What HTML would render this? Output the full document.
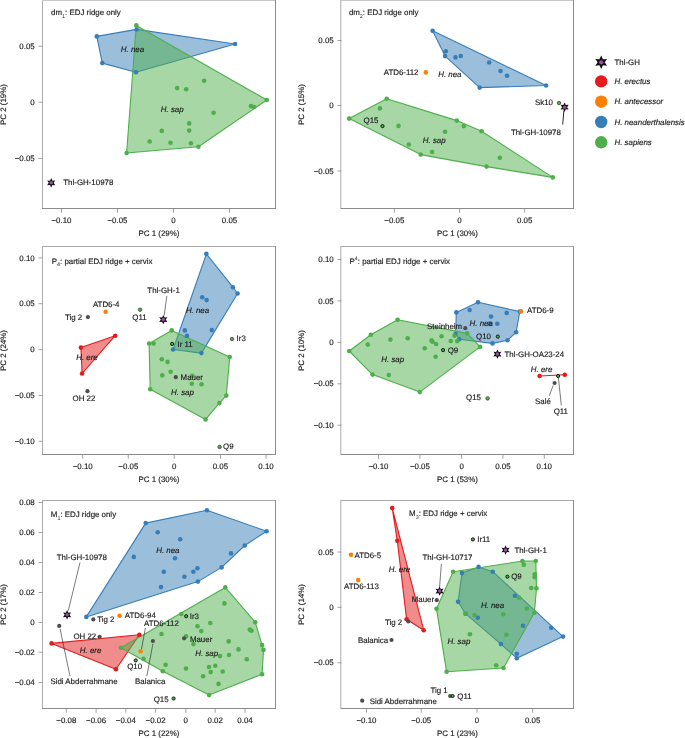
<!DOCTYPE html>
<html><head><meta charset="utf-8"><style>
html,body{margin:0;padding:0;background:#fff;}
svg{display:block;}
text{font-family:"Liberation Sans",sans-serif;fill:#1a1a1a;stroke:#1a1a1a;stroke-width:0.15px;text-rendering:geometricPrecision;}
</style></head><body>
<svg width="685" height="738" viewBox="0 0 685 738">
<rect width="685" height="738" fill="#fff"/>
<line x1="42.5" y1="0" x2="42.5" y2="209" stroke="#acacac" stroke-width="1"/>
<line x1="42" y1="0.5" x2="276" y2="0.5" stroke="#c8c8c8" stroke-width="1"/>
<line x1="275.5" y1="0" x2="275.5" y2="209" stroke="#8c8c8c" stroke-width="1"/>
<line x1="42" y1="208.5" x2="276" y2="208.5" stroke="#8a8a8a" stroke-width="1"/>
<line x1="61.5" y1="208.5" x2="61.5" y2="212.8" stroke="#8c8c8c" stroke-width="0.8"/>
<line x1="117.5" y1="208.5" x2="117.5" y2="212.8" stroke="#8c8c8c" stroke-width="0.8"/>
<line x1="173.5" y1="208.5" x2="173.5" y2="212.8" stroke="#8c8c8c" stroke-width="0.8"/>
<line x1="229.5" y1="208.5" x2="229.5" y2="212.8" stroke="#8c8c8c" stroke-width="0.8"/>
<line x1="38.5" y1="46.2" x2="42.5" y2="46.2" stroke="#8c8c8c" stroke-width="0.8"/>
<line x1="38.5" y1="102.2" x2="42.5" y2="102.2" stroke="#8c8c8c" stroke-width="0.8"/>
<line x1="38.5" y1="158.4" x2="42.5" y2="158.4" stroke="#8c8c8c" stroke-width="0.8"/>
<polygon points="96.8,36.4 136.6,29.4 235.1,44.0 135.9,72.2 102.3,63.1" fill="#377eb8" fill-opacity="0.5" stroke="#377eb8" stroke-width="1.1" stroke-linejoin="round"/>
<polygon points="136.3,25.4 266.8,100.0 198.4,146.8 126.6,153.0" fill="#4daf4a" fill-opacity="0.5" stroke="#4daf4a" stroke-width="1.1" stroke-linejoin="round"/>
<circle cx="96.8" cy="36.4" r="2.3" fill="#377eb8"/>
<circle cx="136.6" cy="29.4" r="2.3" fill="#377eb8"/>
<circle cx="235.1" cy="44.0" r="2.3" fill="#377eb8"/>
<circle cx="135.9" cy="72.2" r="2.3" fill="#377eb8"/>
<circle cx="102.3" cy="63.1" r="2.3" fill="#377eb8"/>
<circle cx="136.3" cy="25.4" r="2.3" fill="#4daf4a"/>
<circle cx="266.8" cy="100.0" r="2.3" fill="#4daf4a"/>
<circle cx="198.4" cy="146.8" r="2.3" fill="#4daf4a"/>
<circle cx="126.6" cy="153.0" r="2.3" fill="#4daf4a"/>
<circle cx="204.1" cy="80.8" r="2.3" fill="#4daf4a"/>
<circle cx="177.1" cy="88.1" r="2.3" fill="#4daf4a"/>
<circle cx="186.2" cy="89.2" r="2.3" fill="#4daf4a"/>
<circle cx="250.9" cy="106.1" r="2.3" fill="#4daf4a"/>
<circle cx="254.0" cy="107.0" r="2.3" fill="#4daf4a"/>
<circle cx="213.6" cy="112.8" r="2.3" fill="#4daf4a"/>
<circle cx="189.2" cy="123.4" r="2.3" fill="#4daf4a"/>
<circle cx="189.2" cy="130.6" r="2.3" fill="#4daf4a"/>
<circle cx="161.8" cy="130.9" r="2.3" fill="#4daf4a"/>
<circle cx="149.7" cy="141.5" r="2.3" fill="#4daf4a"/>
<circle cx="170.5" cy="142.7" r="2.3" fill="#4daf4a"/>
<circle cx="190.9" cy="143.2" r="2.3" fill="#4daf4a"/>
<polygon points="51.20,178.10 49.98,180.68 47.13,180.45 48.76,182.80 47.13,185.15 49.98,184.92 51.20,187.50 52.42,184.92 55.27,185.15 53.64,182.80 55.27,180.45 52.42,180.68" fill="#111"/>
<circle cx="51.2" cy="182.8" r="1.75" fill="#984ea3"/>
<line x1="340.8" y1="0" x2="340.8" y2="209" stroke="#acacac" stroke-width="1"/>
<line x1="341" y1="0.5" x2="574" y2="0.5" stroke="#c8c8c8" stroke-width="1"/>
<line x1="573.5" y1="0" x2="573.5" y2="209" stroke="#8c8c8c" stroke-width="1"/>
<line x1="341" y1="208.5" x2="574" y2="208.5" stroke="#8a8a8a" stroke-width="1"/>
<line x1="394.3" y1="208.5" x2="394.3" y2="212.8" stroke="#8c8c8c" stroke-width="0.8"/>
<line x1="459.5" y1="208.5" x2="459.5" y2="212.8" stroke="#8c8c8c" stroke-width="0.8"/>
<line x1="524.7" y1="208.5" x2="524.7" y2="212.8" stroke="#8c8c8c" stroke-width="0.8"/>
<line x1="337.5" y1="40.5" x2="341.5" y2="40.5" stroke="#8c8c8c" stroke-width="0.8"/>
<line x1="337.5" y1="105.5" x2="341.5" y2="105.5" stroke="#8c8c8c" stroke-width="0.8"/>
<line x1="337.5" y1="171" x2="341.5" y2="171" stroke="#8c8c8c" stroke-width="0.8"/>
<polygon points="432.6,30.8 546.1,85.5 479.7,87.6 445.1,56.1" fill="#377eb8" fill-opacity="0.5" stroke="#377eb8" stroke-width="1.1" stroke-linejoin="round"/>
<polygon points="386.7,98.8 456.8,120.6 481.6,131.2 552.8,177.4 486.5,166.6 420.7,154.6 349.2,118.6" fill="#4daf4a" fill-opacity="0.5" stroke="#4daf4a" stroke-width="1.1" stroke-linejoin="round"/>
<circle cx="432.6" cy="30.8" r="2.3" fill="#377eb8"/>
<circle cx="546.1" cy="85.5" r="2.3" fill="#377eb8"/>
<circle cx="479.7" cy="87.6" r="2.3" fill="#377eb8"/>
<circle cx="445.1" cy="56.1" r="2.3" fill="#377eb8"/>
<circle cx="445.8" cy="51.3" r="2.3" fill="#377eb8"/>
<circle cx="455.5" cy="57.4" r="2.3" fill="#377eb8"/>
<circle cx="460.8" cy="56.0" r="2.3" fill="#377eb8"/>
<circle cx="489.2" cy="62.5" r="2.3" fill="#377eb8"/>
<circle cx="500.5" cy="71.0" r="2.3" fill="#377eb8"/>
<circle cx="507.0" cy="75.7" r="2.3" fill="#377eb8"/>
<circle cx="386.7" cy="98.8" r="2.3" fill="#4daf4a"/>
<circle cx="456.8" cy="120.6" r="2.3" fill="#4daf4a"/>
<circle cx="481.6" cy="131.2" r="2.3" fill="#4daf4a"/>
<circle cx="552.8" cy="177.4" r="2.3" fill="#4daf4a"/>
<circle cx="486.5" cy="166.6" r="2.3" fill="#4daf4a"/>
<circle cx="420.7" cy="154.6" r="2.3" fill="#4daf4a"/>
<circle cx="349.2" cy="118.6" r="2.3" fill="#4daf4a"/>
<circle cx="379.9" cy="108.4" r="2.3" fill="#4daf4a"/>
<circle cx="398.5" cy="125.9" r="2.3" fill="#4daf4a"/>
<circle cx="408.8" cy="144.5" r="2.3" fill="#4daf4a"/>
<circle cx="432.1" cy="152.0" r="2.3" fill="#4daf4a"/>
<circle cx="445.1" cy="131.7" r="2.3" fill="#4daf4a"/>
<circle cx="463.8" cy="126.1" r="2.3" fill="#4daf4a"/>
<circle cx="499.8" cy="157.7" r="2.3" fill="#4daf4a"/>
<circle cx="382.5" cy="126.1" r="1.6" fill="#4daf4a" stroke="#111" stroke-width="0.95"/>
<circle cx="425.8" cy="72.4" r="2.3" fill="#ff7f00"/>
<circle cx="559.0" cy="103.0" r="1.75" fill="#4daf4a" stroke="#3a3a3a" stroke-width="0.75"/>
<line x1="563.9" y1="110.5" x2="562.7" y2="124.5" stroke="#111" stroke-width="0.9"/>
<polygon points="564.60,102.50 563.38,105.08 560.53,104.85 562.16,107.20 560.53,109.55 563.38,109.32 564.60,111.90 565.82,109.32 568.67,109.55 567.04,107.20 568.67,104.85 565.82,105.08" fill="#111"/>
<circle cx="564.6" cy="107.2" r="1.75" fill="#984ea3"/>
<line x1="42.5" y1="246" x2="42.5" y2="455" stroke="#acacac" stroke-width="1"/>
<line x1="42" y1="246.5" x2="276" y2="246.5" stroke="#a8a8a8" stroke-width="1"/>
<line x1="275.5" y1="246" x2="275.5" y2="455" stroke="#8c8c8c" stroke-width="1"/>
<line x1="42" y1="454.5" x2="276" y2="454.5" stroke="#8a8a8a" stroke-width="1"/>
<line x1="82.7" y1="454.5" x2="82.7" y2="458.8" stroke="#8c8c8c" stroke-width="0.8"/>
<line x1="128.3" y1="454.5" x2="128.3" y2="458.8" stroke="#8c8c8c" stroke-width="0.8"/>
<line x1="174.2" y1="454.5" x2="174.2" y2="458.8" stroke="#8c8c8c" stroke-width="0.8"/>
<line x1="220.4" y1="454.5" x2="220.4" y2="458.8" stroke="#8c8c8c" stroke-width="0.8"/>
<line x1="266" y1="454.5" x2="266" y2="458.8" stroke="#8c8c8c" stroke-width="0.8"/>
<line x1="38.5" y1="257.9" x2="42.5" y2="257.9" stroke="#8c8c8c" stroke-width="0.8"/>
<line x1="38.5" y1="303.7" x2="42.5" y2="303.7" stroke="#8c8c8c" stroke-width="0.8"/>
<line x1="38.5" y1="349.7" x2="42.5" y2="349.7" stroke="#8c8c8c" stroke-width="0.8"/>
<line x1="38.5" y1="395.5" x2="42.5" y2="395.5" stroke="#8c8c8c" stroke-width="0.8"/>
<line x1="38.5" y1="441.3" x2="42.5" y2="441.3" stroke="#8c8c8c" stroke-width="0.8"/>
<polygon points="80.9,347.6 115.2,335.7 82.1,373.5" fill="#e41a1c" fill-opacity="0.5" stroke="#e41a1c" stroke-width="1.1" stroke-linejoin="round"/>
<polygon points="206.4,253.9 232.9,287.2 237.6,293.5 201.4,353.1 173.1,349.5" fill="#377eb8" fill-opacity="0.5" stroke="#377eb8" stroke-width="1.1" stroke-linejoin="round"/>
<polygon points="171.7,330.4 229.7,357.1 226.3,395.6 219.4,403.1 205.6,419.4 150.2,389.3 149.1,343.5" fill="#4daf4a" fill-opacity="0.5" stroke="#4daf4a" stroke-width="1.1" stroke-linejoin="round"/>
<circle cx="80.9" cy="347.6" r="2.3" fill="#e41a1c"/>
<circle cx="115.2" cy="335.7" r="2.3" fill="#e41a1c"/>
<circle cx="82.1" cy="373.5" r="2.3" fill="#e41a1c"/>
<circle cx="206.4" cy="253.9" r="2.3" fill="#377eb8"/>
<circle cx="232.9" cy="287.2" r="2.3" fill="#377eb8"/>
<circle cx="237.6" cy="293.5" r="2.3" fill="#377eb8"/>
<circle cx="201.4" cy="353.1" r="2.3" fill="#377eb8"/>
<circle cx="173.1" cy="349.5" r="2.3" fill="#377eb8"/>
<circle cx="202.2" cy="297.2" r="2.3" fill="#377eb8"/>
<circle cx="206.6" cy="300.1" r="2.3" fill="#377eb8"/>
<circle cx="184.8" cy="330.4" r="2.3" fill="#377eb8"/>
<circle cx="187.0" cy="335.9" r="2.3" fill="#377eb8"/>
<circle cx="211.8" cy="330.1" r="2.3" fill="#377eb8"/>
<circle cx="171.7" cy="330.4" r="2.3" fill="#4daf4a"/>
<circle cx="229.7" cy="357.1" r="2.3" fill="#4daf4a"/>
<circle cx="226.3" cy="395.6" r="2.3" fill="#4daf4a"/>
<circle cx="219.4" cy="403.1" r="2.3" fill="#4daf4a"/>
<circle cx="205.6" cy="419.4" r="2.3" fill="#4daf4a"/>
<circle cx="150.2" cy="389.3" r="2.3" fill="#4daf4a"/>
<circle cx="149.1" cy="343.5" r="2.3" fill="#4daf4a"/>
<circle cx="153.6" cy="343.5" r="2.3" fill="#4daf4a"/>
<circle cx="161.8" cy="359.2" r="2.3" fill="#4daf4a"/>
<circle cx="167.6" cy="361.9" r="2.3" fill="#4daf4a"/>
<circle cx="170.6" cy="371.7" r="2.3" fill="#4daf4a"/>
<circle cx="162.3" cy="375.4" r="2.3" fill="#4daf4a"/>
<circle cx="192.2" cy="375.7" r="2.3" fill="#4daf4a"/>
<circle cx="191.8" cy="383.8" r="2.3" fill="#4daf4a"/>
<circle cx="201.5" cy="384.3" r="2.3" fill="#4daf4a"/>
<circle cx="87.9" cy="317.1" r="2.1" fill="#4d4d4d"/>
<circle cx="105.6" cy="311.7" r="2.3" fill="#ff7f00"/>
<circle cx="140.1" cy="309.7" r="1.75" fill="#4daf4a" stroke="#3a3a3a" stroke-width="0.75"/>
<line x1="166.8" y1="295.9" x2="164.2" y2="315.5" stroke="#222" stroke-width="0.6"/>
<polygon points="163.30,314.90 162.08,317.48 159.23,317.25 160.86,319.60 159.23,321.95 162.08,321.72 163.30,324.30 164.52,321.72 167.37,321.95 165.74,319.60 167.37,317.25 164.52,317.48" fill="#111"/>
<circle cx="163.3" cy="319.6" r="1.75" fill="#984ea3"/>
<circle cx="172.1" cy="343.9" r="1.6" fill="#4daf4a" stroke="#111" stroke-width="0.95"/>
<circle cx="232.0" cy="339.0" r="1.75" fill="#4daf4a" stroke="#3a3a3a" stroke-width="0.75"/>
<circle cx="175.8" cy="377.2" r="2.1" fill="#4d4d4d"/>
<circle cx="219.6" cy="447.0" r="1.75" fill="#4daf4a" stroke="#3a3a3a" stroke-width="0.75"/>
<circle cx="87.5" cy="391.2" r="2.1" fill="#4d4d4d"/>
<line x1="340.8" y1="246" x2="340.8" y2="455" stroke="#acacac" stroke-width="1"/>
<line x1="341" y1="246.5" x2="574" y2="246.5" stroke="#a8a8a8" stroke-width="1"/>
<line x1="573.5" y1="246" x2="573.5" y2="455" stroke="#8c8c8c" stroke-width="1"/>
<line x1="341" y1="454.5" x2="574" y2="454.5" stroke="#8a8a8a" stroke-width="1"/>
<line x1="378.5" y1="454.5" x2="378.5" y2="458.8" stroke="#8c8c8c" stroke-width="0.8"/>
<line x1="419.9" y1="454.5" x2="419.9" y2="458.8" stroke="#8c8c8c" stroke-width="0.8"/>
<line x1="461.6" y1="454.5" x2="461.6" y2="458.8" stroke="#8c8c8c" stroke-width="0.8"/>
<line x1="502.9" y1="454.5" x2="502.9" y2="458.8" stroke="#8c8c8c" stroke-width="0.8"/>
<line x1="544.3" y1="454.5" x2="544.3" y2="458.8" stroke="#8c8c8c" stroke-width="0.8"/>
<line x1="337.5" y1="259.5" x2="341.5" y2="259.5" stroke="#8c8c8c" stroke-width="0.8"/>
<line x1="337.5" y1="300.9" x2="341.5" y2="300.9" stroke="#8c8c8c" stroke-width="0.8"/>
<line x1="337.5" y1="342.4" x2="341.5" y2="342.4" stroke="#8c8c8c" stroke-width="0.8"/>
<line x1="337.5" y1="383.8" x2="341.5" y2="383.8" stroke="#8c8c8c" stroke-width="0.8"/>
<line x1="337.5" y1="425.2" x2="341.5" y2="425.2" stroke="#8c8c8c" stroke-width="0.8"/>
<polygon points="456.3,312.4 478.0,302.3 519.8,311.6 516.1,332.3 507.5,340.2 492.5,343.4 459.3,339.2 455.6,334.0" fill="#377eb8" fill-opacity="0.5" stroke="#377eb8" stroke-width="1.1" stroke-linejoin="round"/>
<polygon points="397.6,319.8 467.2,333.4 480.1,346.9 419.8,392.1 372.5,374.6 349.2,351.0 370.8,334.8" fill="#4daf4a" fill-opacity="0.5" stroke="#4daf4a" stroke-width="1.1" stroke-linejoin="round"/>
<circle cx="456.3" cy="312.4" r="2.3" fill="#377eb8"/>
<circle cx="478.0" cy="302.3" r="2.3" fill="#377eb8"/>
<circle cx="519.8" cy="311.6" r="2.3" fill="#377eb8"/>
<circle cx="516.1" cy="332.3" r="2.3" fill="#377eb8"/>
<circle cx="507.5" cy="340.2" r="2.3" fill="#377eb8"/>
<circle cx="492.5" cy="343.4" r="2.3" fill="#377eb8"/>
<circle cx="459.3" cy="339.2" r="2.3" fill="#377eb8"/>
<circle cx="455.6" cy="334.0" r="2.3" fill="#377eb8"/>
<circle cx="469.6" cy="310.0" r="2.3" fill="#377eb8"/>
<circle cx="506.7" cy="312.9" r="2.3" fill="#377eb8"/>
<circle cx="491.0" cy="316.6" r="2.3" fill="#377eb8"/>
<circle cx="497.3" cy="323.8" r="2.3" fill="#377eb8"/>
<circle cx="489.7" cy="323.6" r="2.3" fill="#377eb8"/>
<circle cx="397.6" cy="319.8" r="2.3" fill="#4daf4a"/>
<circle cx="467.2" cy="333.4" r="2.3" fill="#4daf4a"/>
<circle cx="480.1" cy="346.9" r="2.3" fill="#4daf4a"/>
<circle cx="419.8" cy="392.1" r="2.3" fill="#4daf4a"/>
<circle cx="372.5" cy="374.6" r="2.3" fill="#4daf4a"/>
<circle cx="349.2" cy="351.0" r="2.3" fill="#4daf4a"/>
<circle cx="370.8" cy="334.8" r="2.3" fill="#4daf4a"/>
<circle cx="367.8" cy="344.6" r="2.3" fill="#4daf4a"/>
<circle cx="390.4" cy="339.6" r="2.3" fill="#4daf4a"/>
<circle cx="407.7" cy="338.3" r="2.3" fill="#4daf4a"/>
<circle cx="388.8" cy="375.0" r="2.3" fill="#4daf4a"/>
<circle cx="424.7" cy="348.3" r="2.3" fill="#4daf4a"/>
<circle cx="431.6" cy="340.4" r="2.3" fill="#4daf4a"/>
<circle cx="432.5" cy="341.7" r="2.3" fill="#4daf4a"/>
<circle cx="436.1" cy="344.0" r="2.3" fill="#4daf4a"/>
<circle cx="435.6" cy="356.7" r="2.3" fill="#4daf4a"/>
<circle cx="441.6" cy="336.2" r="2.3" fill="#4daf4a"/>
<circle cx="450.8" cy="341.0" r="2.3" fill="#4daf4a"/>
<circle cx="454.5" cy="335.7" r="2.3" fill="#4daf4a"/>
<circle cx="457.2" cy="341.1" r="2.3" fill="#4daf4a"/>
<circle cx="443.1" cy="350.1" r="1.6" fill="#4daf4a" stroke="#111" stroke-width="0.95"/>
<circle cx="465.3" cy="328.2" r="2.1" fill="#4d4d4d"/>
<circle cx="520.9" cy="311.4" r="2.3" fill="#ff7f00"/>
<circle cx="497.8" cy="336.6" r="1.6" fill="#4daf4a" stroke="#111" stroke-width="0.95"/>
<polygon points="497.40,349.40 496.18,351.98 493.33,351.75 494.96,354.10 493.33,356.45 496.18,356.22 497.40,358.80 498.62,356.22 501.47,356.45 499.84,354.10 501.47,351.75 498.62,351.98" fill="#111"/>
<circle cx="497.4" cy="354.1" r="1.75" fill="#984ea3"/>
<line x1="539.6" y1="376" x2="564.8" y2="374.8" stroke="#e41a1c" stroke-width="1.1"/>
<circle cx="539.6" cy="376.0" r="2.3" fill="#e41a1c"/>
<circle cx="564.8" cy="374.8" r="2.3" fill="#e41a1c"/>
<line x1="553.2" y1="385.4" x2="549.3" y2="395.7" stroke="#222" stroke-width="0.6"/>
<circle cx="554.6" cy="383.0" r="2.1" fill="#4d4d4d"/>
<line x1="558.4" y1="377.5" x2="561.3" y2="405.4" stroke="#222" stroke-width="0.6"/>
<circle cx="558.1" cy="376.0" r="1.6" fill="#4daf4a" stroke="#111" stroke-width="0.95"/>
<circle cx="487.6" cy="398.4" r="1.75" fill="#4daf4a" stroke="#3a3a3a" stroke-width="0.75"/>
<line x1="42.5" y1="500" x2="42.5" y2="709" stroke="#acacac" stroke-width="1"/>
<line x1="42" y1="500.5" x2="276" y2="500.5" stroke="#a8a8a8" stroke-width="1"/>
<line x1="275.5" y1="500" x2="275.5" y2="709" stroke="#8c8c8c" stroke-width="1"/>
<line x1="42" y1="708.5" x2="276" y2="708.5" stroke="#8a8a8a" stroke-width="1"/>
<line x1="66.3" y1="708.5" x2="66.3" y2="712.8" stroke="#8c8c8c" stroke-width="0.8"/>
<line x1="96.1" y1="708.5" x2="96.1" y2="712.8" stroke="#8c8c8c" stroke-width="0.8"/>
<line x1="125.8" y1="708.5" x2="125.8" y2="712.8" stroke="#8c8c8c" stroke-width="0.8"/>
<line x1="155.6" y1="708.5" x2="155.6" y2="712.8" stroke="#8c8c8c" stroke-width="0.8"/>
<line x1="185.8" y1="708.5" x2="185.8" y2="712.8" stroke="#8c8c8c" stroke-width="0.8"/>
<line x1="215.2" y1="708.5" x2="215.2" y2="712.8" stroke="#8c8c8c" stroke-width="0.8"/>
<line x1="245" y1="708.5" x2="245" y2="712.8" stroke="#8c8c8c" stroke-width="0.8"/>
<line x1="38.5" y1="502.5" x2="42.5" y2="502.5" stroke="#8c8c8c" stroke-width="0.8"/>
<line x1="38.5" y1="532.5" x2="42.5" y2="532.5" stroke="#8c8c8c" stroke-width="0.8"/>
<line x1="38.5" y1="562.5" x2="42.5" y2="562.5" stroke="#8c8c8c" stroke-width="0.8"/>
<line x1="38.5" y1="592.5" x2="42.5" y2="592.5" stroke="#8c8c8c" stroke-width="0.8"/>
<line x1="38.5" y1="622.5" x2="42.5" y2="622.5" stroke="#8c8c8c" stroke-width="0.8"/>
<line x1="38.5" y1="652.2" x2="42.5" y2="652.2" stroke="#8c8c8c" stroke-width="0.8"/>
<line x1="38.5" y1="682.5" x2="42.5" y2="682.5" stroke="#8c8c8c" stroke-width="0.8"/>
<polygon points="145.7,523.1 206.9,510.3 266.6,531.2 244.8,545.5 221.6,567.4 197.9,581.6 86.3,616.9" fill="#377eb8" fill-opacity="0.5" stroke="#377eb8" stroke-width="1.1" stroke-linejoin="round"/>
<polygon points="51.6,643.4 139.4,634.7 115.9,669.2" fill="#e41a1c" fill-opacity="0.5" stroke="#e41a1c" stroke-width="1.1" stroke-linejoin="round"/>
<polygon points="225.3,587.4 255.2,622.2 262.1,645.1 263.5,649.9 262.1,674.2 209.1,695.1 162.8,671.2 120.9,647.8" fill="#4daf4a" fill-opacity="0.5" stroke="#4daf4a" stroke-width="1.1" stroke-linejoin="round"/>
<circle cx="145.7" cy="523.1" r="2.3" fill="#377eb8"/>
<circle cx="206.9" cy="510.3" r="2.3" fill="#377eb8"/>
<circle cx="266.6" cy="531.2" r="2.3" fill="#377eb8"/>
<circle cx="244.8" cy="545.5" r="2.3" fill="#377eb8"/>
<circle cx="221.6" cy="567.4" r="2.3" fill="#377eb8"/>
<circle cx="197.9" cy="581.6" r="2.3" fill="#377eb8"/>
<circle cx="86.3" cy="616.9" r="2.3" fill="#377eb8"/>
<circle cx="157.7" cy="532.2" r="2.3" fill="#377eb8"/>
<circle cx="180.2" cy="539.2" r="2.3" fill="#377eb8"/>
<circle cx="133.8" cy="556.9" r="2.3" fill="#377eb8"/>
<circle cx="175.0" cy="558.3" r="2.3" fill="#377eb8"/>
<circle cx="231.0" cy="553.4" r="2.3" fill="#377eb8"/>
<circle cx="197.4" cy="568.2" r="2.3" fill="#377eb8"/>
<circle cx="193.4" cy="571.8" r="2.3" fill="#377eb8"/>
<circle cx="163.8" cy="571.8" r="2.3" fill="#377eb8"/>
<circle cx="184.4" cy="576.7" r="2.3" fill="#377eb8"/>
<circle cx="161.0" cy="587.1" r="2.3" fill="#377eb8"/>
<circle cx="51.6" cy="643.4" r="2.3" fill="#e41a1c"/>
<circle cx="139.4" cy="634.7" r="2.3" fill="#e41a1c"/>
<circle cx="115.9" cy="669.2" r="2.3" fill="#e41a1c"/>
<circle cx="225.3" cy="587.4" r="2.3" fill="#4daf4a"/>
<circle cx="255.2" cy="622.2" r="2.3" fill="#4daf4a"/>
<circle cx="262.1" cy="645.1" r="2.3" fill="#4daf4a"/>
<circle cx="263.5" cy="649.9" r="2.3" fill="#4daf4a"/>
<circle cx="262.1" cy="674.2" r="2.3" fill="#4daf4a"/>
<circle cx="209.1" cy="695.1" r="2.3" fill="#4daf4a"/>
<circle cx="162.8" cy="671.2" r="2.3" fill="#4daf4a"/>
<circle cx="120.9" cy="647.8" r="2.3" fill="#4daf4a"/>
<circle cx="224.4" cy="603.4" r="2.3" fill="#4daf4a"/>
<circle cx="249.8" cy="629.6" r="2.3" fill="#4daf4a"/>
<circle cx="251.5" cy="630.7" r="2.3" fill="#4daf4a"/>
<circle cx="210.3" cy="623.0" r="2.3" fill="#4daf4a"/>
<circle cx="197.5" cy="626.3" r="2.3" fill="#4daf4a"/>
<circle cx="201.3" cy="631.1" r="2.3" fill="#4daf4a"/>
<circle cx="186.1" cy="636.3" r="2.3" fill="#4daf4a"/>
<circle cx="193.5" cy="644.1" r="2.3" fill="#4daf4a"/>
<circle cx="228.7" cy="641.4" r="2.3" fill="#4daf4a"/>
<circle cx="238.5" cy="649.4" r="2.3" fill="#4daf4a"/>
<circle cx="229.0" cy="655.0" r="2.3" fill="#4daf4a"/>
<circle cx="220.0" cy="656.1" r="2.3" fill="#4daf4a"/>
<circle cx="246.8" cy="659.2" r="2.3" fill="#4daf4a"/>
<circle cx="165.6" cy="664.8" r="2.3" fill="#4daf4a"/>
<circle cx="186.0" cy="668.5" r="2.3" fill="#4daf4a"/>
<circle cx="209.0" cy="667.0" r="2.3" fill="#4daf4a"/>
<circle cx="215.3" cy="665.7" r="2.3" fill="#4daf4a"/>
<circle cx="210.7" cy="672.1" r="2.3" fill="#4daf4a"/>
<circle cx="222.7" cy="671.5" r="2.3" fill="#4daf4a"/>
<circle cx="203.1" cy="676.3" r="2.3" fill="#4daf4a"/>
<circle cx="218.5" cy="683.9" r="2.3" fill="#4daf4a"/>
<circle cx="181.3" cy="614.0" r="2.3" fill="#4daf4a"/>
<circle cx="161.5" cy="634.0" r="2.3" fill="#4daf4a"/>
<circle cx="143.6" cy="658.9" r="2.3" fill="#4daf4a"/>
<line x1="80" y1="562.5" x2="68.3" y2="610.7" stroke="#222" stroke-width="0.6"/>
<polygon points="67.10,610.10 65.88,612.68 63.03,612.45 64.66,614.80 63.03,617.15 65.88,616.92 67.10,619.50 68.32,616.92 71.17,617.15 69.54,614.80 71.17,612.45 68.32,612.68" fill="#111"/>
<circle cx="67.1" cy="614.8" r="1.75" fill="#984ea3"/>
<circle cx="119.6" cy="615.8" r="2.3" fill="#ff7f00"/>
<circle cx="93.3" cy="619.4" r="2.1" fill="#4d4d4d"/>
<line x1="60" y1="628.6" x2="70" y2="676.2" stroke="#222" stroke-width="0.6"/>
<circle cx="59.2" cy="625.9" r="2.1" fill="#4d4d4d"/>
<circle cx="99.6" cy="636.8" r="2.1" fill="#4d4d4d"/>
<line x1="141.5" y1="649" x2="145.4" y2="628" stroke="#222" stroke-width="0.6"/>
<circle cx="140.6" cy="651.3" r="2.3" fill="#ff7f00"/>
<circle cx="135.7" cy="660.4" r="1.6" fill="#4daf4a" stroke="#111" stroke-width="0.95"/>
<line x1="152.9" y1="643.8" x2="146.8" y2="676.2" stroke="#222" stroke-width="0.6"/>
<circle cx="152.9" cy="641.0" r="2.1" fill="#4d4d4d"/>
<circle cx="186.2" cy="616.2" r="1.6" fill="#4daf4a" stroke="#111" stroke-width="0.95"/>
<circle cx="184.1" cy="638.3" r="2.1" fill="#4d4d4d"/>
<circle cx="173.6" cy="698.5" r="1.6" fill="#4daf4a" stroke="#111" stroke-width="0.95"/>
<line x1="340.8" y1="500" x2="340.8" y2="709" stroke="#acacac" stroke-width="1"/>
<line x1="341" y1="500.5" x2="574" y2="500.5" stroke="#a8a8a8" stroke-width="1"/>
<line x1="573.5" y1="500" x2="573.5" y2="709" stroke="#8c8c8c" stroke-width="1"/>
<line x1="341" y1="708.5" x2="574" y2="708.5" stroke="#8a8a8a" stroke-width="1"/>
<line x1="366.5" y1="708.5" x2="366.5" y2="712.8" stroke="#8c8c8c" stroke-width="0.8"/>
<line x1="421.2" y1="708.5" x2="421.2" y2="712.8" stroke="#8c8c8c" stroke-width="0.8"/>
<line x1="477" y1="708.5" x2="477" y2="712.8" stroke="#8c8c8c" stroke-width="0.8"/>
<line x1="532.6" y1="708.5" x2="532.6" y2="712.8" stroke="#8c8c8c" stroke-width="0.8"/>
<line x1="337.5" y1="552" x2="341.5" y2="552" stroke="#8c8c8c" stroke-width="0.8"/>
<line x1="337.5" y1="607.3" x2="341.5" y2="607.3" stroke="#8c8c8c" stroke-width="0.8"/>
<line x1="337.5" y1="662.8" x2="341.5" y2="662.8" stroke="#8c8c8c" stroke-width="0.8"/>
<polygon points="392.2,508.0 423.7,630.2 406.6,619.2 397.3,540.8" fill="#e41a1c" fill-opacity="0.5" stroke="#e41a1c" stroke-width="1.1" stroke-linejoin="round"/>
<polygon points="478.6,566.9 492.8,571.7 563.0,636.6 516.8,658.2 500.9,644.1 465.5,613.7 458.1,601.8 462.0,573.1" fill="#377eb8" fill-opacity="0.5" stroke="#377eb8" stroke-width="1.1" stroke-linejoin="round"/>
<polygon points="453.1,571.8 522.4,561.0 535.8,561.0 536.5,588.3 534.4,612.8 503.5,668.0 446.6,671.8 436.5,608.8" fill="#4daf4a" fill-opacity="0.5" stroke="#4daf4a" stroke-width="1.1" stroke-linejoin="round"/>
<circle cx="392.2" cy="508.0" r="2.3" fill="#e41a1c"/>
<circle cx="423.7" cy="630.2" r="2.3" fill="#e41a1c"/>
<circle cx="406.6" cy="619.2" r="2.3" fill="#e41a1c"/>
<circle cx="397.3" cy="540.8" r="2.3" fill="#e41a1c"/>
<circle cx="478.6" cy="566.9" r="2.3" fill="#377eb8"/>
<circle cx="492.8" cy="571.7" r="2.3" fill="#377eb8"/>
<circle cx="563.0" cy="636.6" r="2.3" fill="#377eb8"/>
<circle cx="516.8" cy="658.2" r="2.3" fill="#377eb8"/>
<circle cx="500.9" cy="644.1" r="2.3" fill="#377eb8"/>
<circle cx="465.5" cy="613.7" r="2.3" fill="#377eb8"/>
<circle cx="458.1" cy="601.8" r="2.3" fill="#377eb8"/>
<circle cx="462.0" cy="573.1" r="2.3" fill="#377eb8"/>
<circle cx="514.9" cy="595.7" r="2.3" fill="#377eb8"/>
<circle cx="477.8" cy="617.8" r="2.3" fill="#377eb8"/>
<circle cx="523.0" cy="625.8" r="2.3" fill="#377eb8"/>
<circle cx="551.2" cy="627.8" r="2.3" fill="#377eb8"/>
<circle cx="516.8" cy="653.8" r="2.3" fill="#377eb8"/>
<circle cx="453.1" cy="571.8" r="2.3" fill="#4daf4a"/>
<circle cx="522.4" cy="561.0" r="2.3" fill="#4daf4a"/>
<circle cx="535.8" cy="561.0" r="2.3" fill="#4daf4a"/>
<circle cx="536.5" cy="588.3" r="2.3" fill="#4daf4a"/>
<circle cx="534.4" cy="612.8" r="2.3" fill="#4daf4a"/>
<circle cx="503.5" cy="668.0" r="2.3" fill="#4daf4a"/>
<circle cx="446.6" cy="671.8" r="2.3" fill="#4daf4a"/>
<circle cx="436.5" cy="608.8" r="2.3" fill="#4daf4a"/>
<circle cx="523.8" cy="564.7" r="2.3" fill="#4daf4a"/>
<circle cx="534.7" cy="574.3" r="2.3" fill="#4daf4a"/>
<circle cx="534.7" cy="577.3" r="2.3" fill="#4daf4a"/>
<circle cx="531.2" cy="588.0" r="2.3" fill="#4daf4a"/>
<circle cx="519.0" cy="597.6" r="2.3" fill="#4daf4a"/>
<circle cx="526.8" cy="608.5" r="2.3" fill="#4daf4a"/>
<circle cx="503.2" cy="614.3" r="2.3" fill="#4daf4a"/>
<circle cx="474.6" cy="615.0" r="2.3" fill="#4daf4a"/>
<circle cx="465.9" cy="613.5" r="2.3" fill="#4daf4a"/>
<circle cx="469.9" cy="634.2" r="2.3" fill="#4daf4a"/>
<circle cx="506.3" cy="634.8" r="2.3" fill="#4daf4a"/>
<circle cx="496.2" cy="665.2" r="2.3" fill="#4daf4a"/>
<circle cx="351.0" cy="554.7" r="2.3" fill="#ff7f00"/>
<circle cx="358.2" cy="580.1" r="2.3" fill="#ff7f00"/>
<line x1="441.4" y1="564" x2="439.5" y2="587.6" stroke="#222" stroke-width="0.6"/>
<polygon points="439.60,586.40 438.38,588.98 435.53,588.75 437.16,591.10 435.53,593.45 438.38,593.22 439.60,595.80 440.82,593.22 443.67,593.45 442.04,591.10 443.67,588.75 440.82,588.98" fill="#111"/>
<circle cx="439.6" cy="591.1" r="1.75" fill="#984ea3"/>
<circle cx="436.8" cy="600.2" r="2.1" fill="#4d4d4d"/>
<circle cx="408.3" cy="621.4" r="2.1" fill="#4d4d4d"/>
<circle cx="391.5" cy="640.0" r="2.1" fill="#4d4d4d"/>
<circle cx="362.2" cy="700.7" r="2.1" fill="#4d4d4d"/>
<circle cx="450.0" cy="696.0" r="1.9" fill="#4d4d4d"/>
<circle cx="452.6" cy="696.0" r="1.6" fill="#4daf4a" stroke="#111" stroke-width="0.95"/>
<circle cx="472.9" cy="539.4" r="1.6" fill="#4daf4a" stroke="#111" stroke-width="0.95"/>
<polygon points="505.60,545.30 504.38,547.88 501.53,547.65 503.16,550.00 501.53,552.35 504.38,552.12 505.60,554.70 506.82,552.12 509.67,552.35 508.04,550.00 509.67,547.65 506.82,547.88" fill="#111"/>
<circle cx="505.6" cy="550" r="1.75" fill="#984ea3"/>
<circle cx="507.4" cy="576.7" r="1.6" fill="#4daf4a" stroke="#111" stroke-width="0.95"/>
<polygon points="601.20,55.50 599.43,59.24 595.31,58.90 597.66,62.30 595.31,65.70 599.43,65.36 601.20,69.10 602.97,65.36 607.09,65.70 604.74,62.30 607.09,58.90 602.97,59.24" fill="#111"/>
<circle cx="601.2" cy="62.3" r="2.1" fill="#984ea3"/>
<circle cx="601.2" cy="81.4" r="6.2" fill="#e41a1c"/>
<circle cx="601.2" cy="101.7" r="6.2" fill="#ff7f00"/>
<circle cx="601.2" cy="122" r="6.2" fill="#377eb8"/>
<circle cx="601.2" cy="142.3" r="6.2" fill="#4daf4a"/>
<g style="will-change:transform">
<text x="61.5" y="222.8" text-anchor="middle" font-size="7.9">−0.10</text>
<text x="117.5" y="222.8" text-anchor="middle" font-size="7.9">−0.05</text>
<text x="173.5" y="222.8" text-anchor="middle" font-size="7.9">0</text>
<text x="229.5" y="222.8" text-anchor="middle" font-size="7.9">0.05</text>
<text x="34.7" y="48.8" text-anchor="end" font-size="7.9">0.05</text>
<text x="34.7" y="104.8" text-anchor="end" font-size="7.9">0</text>
<text x="34.7" y="161.0" text-anchor="end" font-size="7.9">−0.05</text>
<text x="159.0" y="236.1" text-anchor="middle" font-size="7.9">PC 1 (29%)</text>
<text transform="translate(6.2,104.5) rotate(-90)" text-anchor="middle" font-size="7.9">PC 2 (19%)</text>
<text x="51.1" y="15.1" font-size="7.9">dm<tspan font-size="5.4" dy="2.6" style="stroke-width:0">1</tspan><tspan dy="-2.6">: EDJ ridge only</tspan></text>
<text x="120.8" y="51.7" text-anchor="start" font-size="7.9" font-style="italic">H. nea</text>
<text x="160.8" y="112.3" text-anchor="start" font-size="7.9" font-style="italic">H. sap</text>
<text x="63.3" y="185.4" text-anchor="start" font-size="7.9">Thl-GH-10978</text>
<text x="394.3" y="222.8" text-anchor="middle" font-size="7.9">−0.05</text>
<text x="459.5" y="222.8" text-anchor="middle" font-size="7.9">0</text>
<text x="524.7" y="222.8" text-anchor="middle" font-size="7.9">0.05</text>
<text x="333.7" y="43.1" text-anchor="end" font-size="7.9">0.05</text>
<text x="333.7" y="108.1" text-anchor="end" font-size="7.9">0</text>
<text x="333.7" y="173.6" text-anchor="end" font-size="7.9">−0.05</text>
<text x="457.5" y="236.1" text-anchor="middle" font-size="7.9">PC 1 (30%)</text>
<text transform="translate(304.1,104.5) rotate(-90)" text-anchor="middle" font-size="7.9">PC 2 (15%)</text>
<text x="348.9" y="15.2" font-size="7.9">dm<tspan font-size="5.4" dy="2.6" style="stroke-width:0">2</tspan><tspan dy="-2.6">: EDJ ridge only</tspan></text>
<text x="378.5" y="123.3" text-anchor="end" font-size="7.9">Q15</text>
<text x="418.5" y="75.0" text-anchor="end" font-size="7.9">ATD6-112</text>
<text x="438.2" y="77.1" text-anchor="start" font-size="7.9" font-style="italic">H. nea</text>
<text x="422.8" y="143.4" text-anchor="start" font-size="7.9" font-style="italic">H. sap</text>
<text x="553.0" y="104.9" text-anchor="end" font-size="7.9">Sk10</text>
<text x="560.9" y="134.5" text-anchor="end" font-size="7.9">Thl-GH-10978</text>
<text x="82.7" y="468.8" text-anchor="middle" font-size="7.9">−0.10</text>
<text x="128.3" y="468.8" text-anchor="middle" font-size="7.9">−0.05</text>
<text x="174.2" y="468.8" text-anchor="middle" font-size="7.9">0</text>
<text x="220.4" y="468.8" text-anchor="middle" font-size="7.9">0.05</text>
<text x="266.0" y="468.8" text-anchor="middle" font-size="7.9">0.10</text>
<text x="34.7" y="260.5" text-anchor="end" font-size="7.9">0.10</text>
<text x="34.7" y="306.3" text-anchor="end" font-size="7.9">0.05</text>
<text x="34.7" y="352.3" text-anchor="end" font-size="7.9">0</text>
<text x="34.7" y="398.1" text-anchor="end" font-size="7.9">−0.05</text>
<text x="34.7" y="443.9" text-anchor="end" font-size="7.9">−0.10</text>
<text x="159.0" y="482.1" text-anchor="middle" font-size="7.9">PC 1 (30%)</text>
<text transform="translate(6.2,350.5) rotate(-90)" text-anchor="middle" font-size="7.9">PC 2 (24%)</text>
<text x="51.8" y="263.6" font-size="7.9">P<tspan font-size="5.4" dy="2.6" style="stroke-width:0">4</tspan><tspan dy="-2.6">: partial EDJ ridge + cervix</tspan></text>
<text x="76.2" y="360.4" text-anchor="start" font-size="7.9" font-style="italic">H. ere</text>
<text x="185.9" y="312.6" text-anchor="start" font-size="7.9" font-style="italic">H. nea</text>
<text x="171.1" y="394.8" text-anchor="start" font-size="7.9" font-style="italic">H. sap</text>
<text x="82.2" y="319.9" text-anchor="end" font-size="7.9">Tig 2</text>
<text x="106.2" y="306.9" text-anchor="middle" font-size="7.9">ATD6-4</text>
<text x="139.5" y="320.4" text-anchor="middle" font-size="7.9">Q11</text>
<text x="163.6" y="292.9" text-anchor="middle" font-size="7.9">Thl-GH-1</text>
<text x="177.5" y="346.7" text-anchor="start" font-size="7.9">Ir 11</text>
<text x="236.6" y="340.9" text-anchor="start" font-size="7.9">Ir3</text>
<text x="180.6" y="380.4" text-anchor="start" font-size="7.9">Mauer</text>
<text x="223.0" y="449.2" text-anchor="start" font-size="7.9">Q9</text>
<text x="84.0" y="400.8" text-anchor="middle" font-size="7.9">OH 22</text>
<text x="378.5" y="468.8" text-anchor="middle" font-size="7.9">−0.10</text>
<text x="419.9" y="468.8" text-anchor="middle" font-size="7.9">−0.05</text>
<text x="461.6" y="468.8" text-anchor="middle" font-size="7.9">0</text>
<text x="502.9" y="468.8" text-anchor="middle" font-size="7.9">0.05</text>
<text x="544.3" y="468.8" text-anchor="middle" font-size="7.9">0.10</text>
<text x="333.7" y="262.1" text-anchor="end" font-size="7.9">0.10</text>
<text x="333.7" y="303.5" text-anchor="end" font-size="7.9">0.05</text>
<text x="333.7" y="345.0" text-anchor="end" font-size="7.9">0</text>
<text x="333.7" y="386.4" text-anchor="end" font-size="7.9">−0.05</text>
<text x="333.7" y="427.8" text-anchor="end" font-size="7.9">−0.10</text>
<text x="457.5" y="482.1" text-anchor="middle" font-size="7.9">PC 1 (53%)</text>
<text transform="translate(303.9,350.5) rotate(-90)" text-anchor="middle" font-size="7.9">PC 2 (10%)</text>
<text x="349.6" y="263.6" font-size="7.9">P<tspan font-size="5.2" dy="-3.9" style="stroke-width:0">4</tspan><tspan dy="3.9">: partial EDJ ridge + cervix</tspan></text>
<text x="447.7" y="352.6" text-anchor="start" font-size="7.9">Q9</text>
<text x="462.2" y="328.9" text-anchor="end" font-size="7.9">Steinheim</text>
<text x="527.0" y="313.4" text-anchor="start" font-size="7.9">ATD6-9</text>
<text x="469.6" y="325.6" text-anchor="start" font-size="7.9" font-style="italic">H. nea</text>
<text x="381.3" y="361.6" text-anchor="start" font-size="7.9" font-style="italic">H. sap</text>
<text x="491.0" y="339.0" text-anchor="end" font-size="7.9">Q10</text>
<text x="504.5" y="356.6" text-anchor="start" font-size="7.9">Thl-GH-OA23-24</text>
<text x="530.8" y="372.1" text-anchor="start" font-size="7.9" font-style="italic">H. ere</text>
<text x="543.0" y="404.1" text-anchor="middle" font-size="7.9">Salé</text>
<text x="560.8" y="413.5" text-anchor="middle" font-size="7.9">Q11</text>
<text x="481.0" y="400.4" text-anchor="end" font-size="7.9">Q15</text>
<text x="66.3" y="722.8" text-anchor="middle" font-size="7.9">−0.08</text>
<text x="96.1" y="722.8" text-anchor="middle" font-size="7.9">−0.06</text>
<text x="125.8" y="722.8" text-anchor="middle" font-size="7.9">−0.04</text>
<text x="155.6" y="722.8" text-anchor="middle" font-size="7.9">−0.02</text>
<text x="185.8" y="722.8" text-anchor="middle" font-size="7.9">0</text>
<text x="215.2" y="722.8" text-anchor="middle" font-size="7.9">0.02</text>
<text x="245.0" y="722.8" text-anchor="middle" font-size="7.9">0.04</text>
<text x="34.7" y="505.1" text-anchor="end" font-size="7.9">0.08</text>
<text x="34.7" y="535.1" text-anchor="end" font-size="7.9">0.06</text>
<text x="34.7" y="565.1" text-anchor="end" font-size="7.9">0.04</text>
<text x="34.7" y="595.1" text-anchor="end" font-size="7.9">0.02</text>
<text x="34.7" y="625.1" text-anchor="end" font-size="7.9">0</text>
<text x="34.7" y="654.8" text-anchor="end" font-size="7.9">−0.02</text>
<text x="34.7" y="685.1" text-anchor="end" font-size="7.9">−0.04</text>
<text x="159.0" y="736.1" text-anchor="middle" font-size="7.9">PC 1 (22%)</text>
<text transform="translate(6.2,604.5) rotate(-90)" text-anchor="middle" font-size="7.9">PC 2 (17%)</text>
<text x="50.8" y="517.3" font-size="7.9">M<tspan font-size="5.4" dy="2.6" style="stroke-width:0">1</tspan><tspan dy="-2.6">: EDJ ridge only</tspan></text>
<text x="156.2" y="553.4" text-anchor="start" font-size="7.9" font-style="italic">H. nea</text>
<text x="79.8" y="652.6" text-anchor="start" font-size="7.9" font-style="italic">H. ere</text>
<text x="195.3" y="655.7" text-anchor="start" font-size="7.9" font-style="italic">H. sap</text>
<text x="81.8" y="559.5" text-anchor="middle" font-size="7.9">Thl-GH-10978</text>
<text x="124.8" y="617.9" text-anchor="start" font-size="7.9">ATD6-94</text>
<text x="97.2" y="621.9" text-anchor="start" font-size="7.9">Tig 2</text>
<text x="84.0" y="684.4" text-anchor="middle" font-size="7.9">Sidi Abderrahmane</text>
<text x="96.2" y="638.5" text-anchor="end" font-size="7.9">OH 22</text>
<text x="144.0" y="625.9" text-anchor="start" font-size="7.9">ATD6-112</text>
<text x="134.6" y="668.6" text-anchor="middle" font-size="7.9">Q10</text>
<text x="150.2" y="684.3" text-anchor="middle" font-size="7.9">Balanica</text>
<text x="189.8" y="618.6" text-anchor="start" font-size="7.9">Ir3</text>
<text x="189.9" y="641.5" text-anchor="start" font-size="7.9">Mauer</text>
<text x="168.6" y="701.6" text-anchor="end" font-size="7.9">Q15</text>
<text x="366.5" y="722.8" text-anchor="middle" font-size="7.9">−0.10</text>
<text x="421.2" y="722.8" text-anchor="middle" font-size="7.9">−0.05</text>
<text x="477.0" y="722.8" text-anchor="middle" font-size="7.9">0</text>
<text x="532.6" y="722.8" text-anchor="middle" font-size="7.9">0.05</text>
<text x="333.7" y="554.6" text-anchor="end" font-size="7.9">0.05</text>
<text x="333.7" y="609.9" text-anchor="end" font-size="7.9">0</text>
<text x="333.7" y="665.4" text-anchor="end" font-size="7.9">−0.05</text>
<text x="457.5" y="736.1" text-anchor="middle" font-size="7.9">PC 1 (23%)</text>
<text transform="translate(303.8,604.5) rotate(-90)" text-anchor="middle" font-size="7.9">PC 2 (14%)</text>
<text x="409.1" y="516.4" font-size="7.9">M<tspan font-size="5.4" dy="2.6" style="stroke-width:0">3</tspan><tspan dy="-2.6">: EDJ ridge + cervix</tspan></text>
<text x="388.7" y="571.8" text-anchor="start" font-size="7.9" font-style="italic">H. ere</text>
<text x="480.9" y="608.1" text-anchor="start" font-size="7.9" font-style="italic">H. nea</text>
<text x="447.5" y="643.8" text-anchor="start" font-size="7.9" font-style="italic">H. sap</text>
<text x="354.5" y="557.6" text-anchor="start" font-size="7.9">ATD6-5</text>
<text x="361.4" y="588.8" text-anchor="middle" font-size="7.9">ATD6-113</text>
<text x="447.5" y="559.5" text-anchor="middle" font-size="7.9">Thl-GH-10717</text>
<text x="434.1" y="601.9" text-anchor="end" font-size="7.9">Mauer</text>
<text x="402.2" y="625.4" text-anchor="end" font-size="7.9">Tig 2</text>
<text x="388.2" y="642.9" text-anchor="end" font-size="7.9">Balanica</text>
<text x="369.7" y="703.7" text-anchor="start" font-size="7.9">Sidi Abderrahmane</text>
<text x="447.7" y="692.8" text-anchor="end" font-size="7.9">Tig 1</text>
<text x="457.3" y="699.0" text-anchor="start" font-size="7.9">Q11</text>
<text x="477.2" y="542.0" text-anchor="start" font-size="7.9">Ir11</text>
<text x="514.4" y="552.7" text-anchor="start" font-size="7.9">Thl-GH-1</text>
<text x="511.2" y="579.3" text-anchor="start" font-size="7.9">Q9</text>
<text x="614.5" y="64.9" text-anchor="start" font-size="7.9">Thl-GH</text>
<text x="614.5" y="84.0" text-anchor="start" font-size="7.9" font-style="italic">H. erectus</text>
<text x="614.5" y="104.3" text-anchor="start" font-size="7.9" font-style="italic">H. antecessor</text>
<text x="614.5" y="124.6" text-anchor="start" font-size="7.9" font-style="italic">H. neanderthalensis</text>
<text x="614.5" y="144.9" text-anchor="start" font-size="7.9" font-style="italic">H. sapiens</text>
</g>
</svg>
</body></html>
